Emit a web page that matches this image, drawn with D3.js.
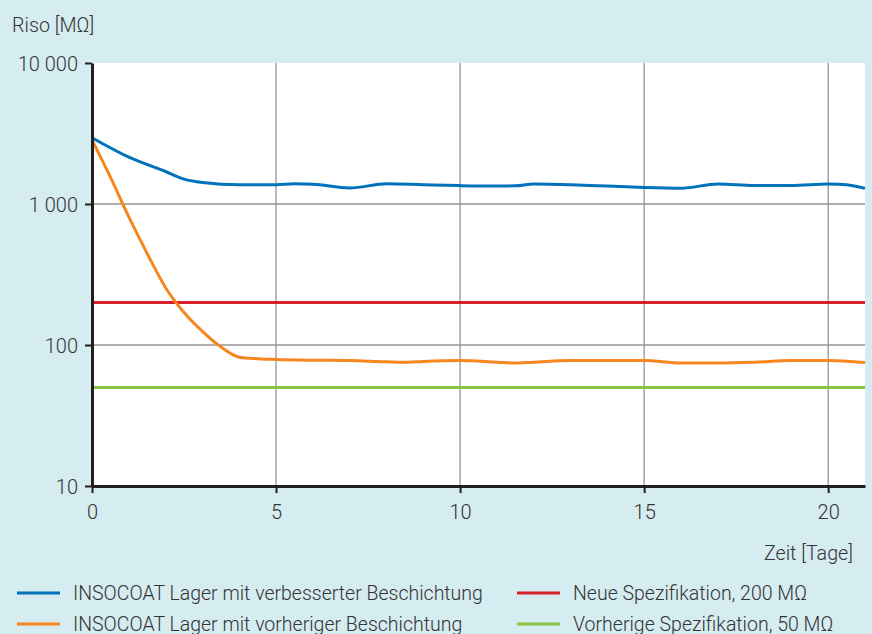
<!DOCTYPE html>
<html>
<head>
<meta charset="utf-8">
<script src="https://cdn.jsdelivr.net/npm/d3@7"></script>
<style>
  body { margin: 0; background: #d5ecf0; }
  svg { display: block; font-family: Roboto, "Noto Sans", sans-serif; }
</style>
</head>
<body>
<svg id="chart" width="872" height="634"></svg>
<script>
// data
const days = [0, 1, 2, 2.5, 3, 4, 5, 5.5, 6, 7, 8, 9, 10, 11, 11.5, 12, 13, 14, 15, 16, 17, 18, 19, 20, 20.5, 21];
const improved = [2950, 2150, 1700, 1500, 1420, 1370, 1370, 1390, 1380, 1300, 1390, 1370, 1350, 1340, 1345, 1385, 1370, 1340, 1310, 1295, 1385, 1350, 1350, 1385, 1370, 1290];

const daysOld = [0, 0.5, 1, 1.5, 2, 2.5, 3, 3.5, 4, 4.5, 5, 6, 7, 8, 8.5, 9, 10, 11, 11.5, 12, 13, 14, 15, 16, 17, 18, 19, 20, 21];
const previous = [2850, 1550, 810, 445, 255, 170, 125, 97, 82, 80, 79, 78, 77.5, 76, 75.5, 76.5, 77.5, 75.5, 74.5, 75.5, 77.5, 77.5, 77.5, 74.5, 74.5, 75.5, 77.5, 77.5, 75];

const newSpec = 200;
const oldSpec = 50;

const xTicks = [0, 5, 10, 15, 20];
const yTicks = [10, 100, 1000, 10000];
const yTickLabels = ["10", "100", "1 000", "10 000"];

const legendNames = [
  "INSOCOAT Lager mit verbesserter Beschichtung",
  "INSOCOAT Lager mit vorheriger Beschichtung",
  "Neue Spezifikation, 200 MΩ",
  "Vorherige Spezifikation, 50 MΩ"
];
const colors = ["#0072bb", "#f7861f", "#d7202a", "#8cc63f"];

const svg = d3.select("#chart");

let x = d3.scaleLinear().domain([0, 21]).range([92, 865]);
let y = d3.scaleLog().domain([10, 10000]).range([486, 63]);

// plot background
svg.append("rect")
  .attr("x", x(0))
  .attr("y", y(10000))
  .attr("width", x(21) - x(0))
  .attr("height", y(10) - y(10000))
  .style("fill", "white");

// grid
svg.append("g")
  .selectAll("line")
  .data(xTicks.filter(d => d > 0))
  .join("line")
  .attr("x1", d => x(d)).attr("x2", d => x(d))
  .attr("y1", y(10000)).attr("y2", y(10))
  .style("stroke", "#949494")
  .style("stroke-width", 1.3);

svg.append("g")
  .selectAll("line")
  .data([100, 1000])
  .join("line")
  .attr("x1", x(0)).attr("x2", x(21))
  .attr("y1", d => y(d)).attr("y2", d => y(d))
  .style("stroke", "#949494")
  .style("stroke-width", 1.3);

// spec lines
svg.append("line")
  .attr("x1", x(0)).attr("x2", x(21))
  .attr("y1", y(newSpec)).attr("y2", y(newSpec))
  .style("stroke", colors[2])
  .style("stroke-width", 3);

svg.append("line")
  .attr("x1", x(0)).attr("x2", x(21))
  .attr("y1", y(oldSpec)).attr("y2", y(oldSpec))
  .style("stroke", colors[3])
  .style("stroke-width", 3);

// curves
let line = d3.line()
  .x(d => x(d[0]))
  .y(d => y(d[1]))
  .curve(d3.curveMonotoneX);

svg.append("path")
  .datum(daysOld.map((d, i) => [d, previous[i]]))
  .attr("d", line)
  .style("fill", "none")
  .style("stroke", colors[1])
  .style("stroke-width", 3);

svg.append("path")
  .datum(days.map((d, i) => [d, improved[i]]))
  .attr("d", line)
  .style("fill", "none")
  .style("stroke", colors[0])
  .style("stroke-width", 3);

// axes
let yAxis = svg.append("g")
  .attr("transform", "translate(" + x(0) + ",0)")
  .call(d3.axisLeft(y).tickValues(yTicks).tickFormat((d, i) => yTickLabels[i]).tickSize(7).tickSizeOuter(0));

let xAxis = svg.append("g")
  .attr("transform", "translate(0," + y(10) + ")")
  .call(d3.axisBottom(x).tickValues(xTicks).tickSize(7).tickSizeOuter(0));

[yAxis, xAxis].forEach(a => {
  a.select(".domain").style("stroke", "#231f20").style("stroke-width", 3);
  a.selectAll(".tick line").style("stroke", "#231f20").style("stroke-width", 2);
  a.selectAll(".tick text")
    .style("font-size", "20px")
    .style("font-family", "Roboto, sans-serif")
    .style("font-weight", 300)
    .style("fill", "#333");
});
yAxis.selectAll(".tick text").attr("x", -14).attr("dy", "0.36em");
xAxis.selectAll(".tick text").attr("y", 19);

// axis labels
svg.append("text")
  .attr("x", 12)
  .attr("y", 32)
  .text("Riso [MΩ]")
  .style("font-size", "19.7px")
  .style("font-weight", 300)
  .style("fill", "#333");

svg.append("text")
  .attr("x", 853)
  .attr("y", 560)
  .style("text-anchor", "end")
  .text("Zeit [Tage]")
  .style("font-size", "19.7px")
  .style("font-weight", 300)
  .style("fill", "#333");

// legend
const legendPos = [[17, 593], [17, 624], [517, 593], [517, 624]];
let legend = svg.append("g")
  .selectAll("g")
  .data(legendNames)
  .join("g")
  .attr("transform", (d, i) => "translate(" + legendPos[i][0] + "," + legendPos[i][1] + ")");

legend.append("line")
  .attr("x1", 0).attr("x2", 43)
  .attr("y1", 0).attr("y2", 0)
  .style("stroke", (d, i) => colors[i])
  .style("stroke-width", 3);

legend.append("text")
  .attr("x", 56)
  .attr("y", 7)
  .text(d => d)
  .style("font-size", "19.5px")
  .style("font-weight", 300)
  .style("fill", "#333");
</script>
</body>
</html>
